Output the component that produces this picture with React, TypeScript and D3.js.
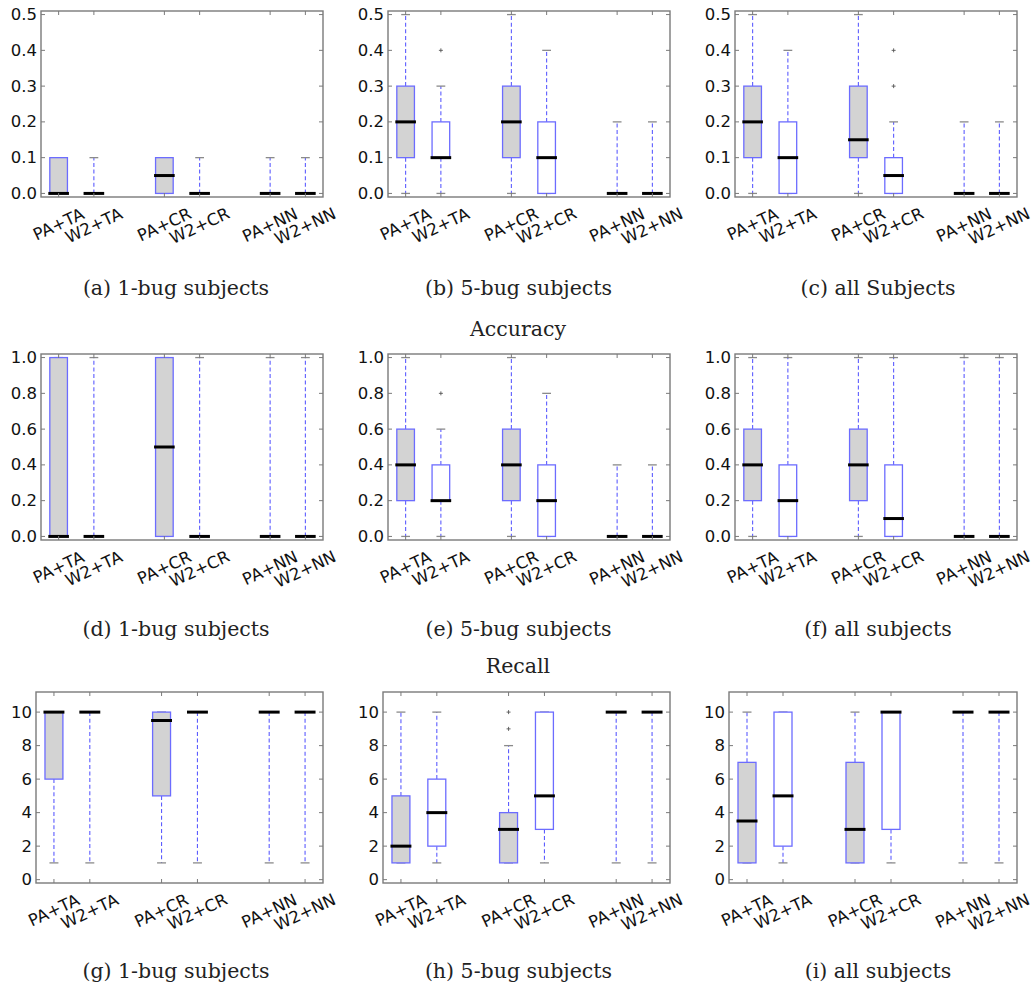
import React from "react";
import * as d3 from "d3";

// ---------- data ----------
const categories = ["PA+TA", "W2+TA", "PA+CR", "W2+CR", "PA+NN", "W2+NN"];
const positions = [1, 2, 4, 5, 7, 8];
const filledBox = [true, false, true, false, true, false];

// stats per box: [whiskerLow, q1, median, q3, whiskerHigh]
const precision1Bug = [[0, 0, 0, 0.1, 0.1], [0, 0, 0, 0, 0.1], [0, 0, 0.05, 0.1, 0.1], [0, 0, 0, 0, 0.1], [0, 0, 0, 0, 0.1], [0, 0, 0, 0, 0.1]];
const precision1BugFliers = [[], [], [], [], [], []];
const precision5Bug = [[0, 0.1, 0.2, 0.3, 0.5], [0, 0.1, 0.1, 0.2, 0.3], [0, 0.1, 0.2, 0.3, 0.5], [0, 0, 0.1, 0.2, 0.4], [0, 0, 0, 0, 0.2], [0, 0, 0, 0, 0.2]];
const precision5BugFliers = [[], [0.4], [], [], [], []];
const precisionAll = [[0, 0.1, 0.2, 0.3, 0.5], [0, 0, 0.1, 0.2, 0.4], [0, 0.1, 0.15, 0.3, 0.5], [0, 0, 0.05, 0.1, 0.2], [0, 0, 0, 0, 0.2], [0, 0, 0, 0, 0.2]];
const precisionAllFliers = [[], [], [], [0.3, 0.4], [], []];

const recall1Bug = [[0, 0, 0, 1, 1], [0, 0, 0, 0, 1], [0, 0, 0.5, 1, 1], [0, 0, 0, 0, 1], [0, 0, 0, 0, 1], [0, 0, 0, 0, 1]];
const recall1BugFliers = [[], [], [], [], [], []];
const recall5Bug = [[0, 0.2, 0.4, 0.6, 1], [0, 0.2, 0.2, 0.4, 0.6], [0, 0.2, 0.4, 0.6, 1], [0, 0, 0.2, 0.4, 0.8], [0, 0, 0, 0, 0.4], [0, 0, 0, 0, 0.4]];
const recall5BugFliers = [[], [0.8], [], [], [], []];
const recallAll = [[0, 0.2, 0.4, 0.6, 1], [0, 0, 0.2, 0.4, 1], [0, 0.2, 0.4, 0.6, 1], [0, 0, 0.1, 0.4, 1], [0, 0, 0, 0, 1], [0, 0, 0, 0, 1]];
const recallAllFliers = [[], [], [], [], [], []];

const rank1Bug = [[1, 6, 10, 10, 10], [1, 10, 10, 10, 10], [1, 5, 9.5, 10, 10], [1, 10, 10, 10, 10], [1, 10, 10, 10, 10], [1, 10, 10, 10, 10]];
const rank1BugFliers = [[], [], [], [], [], []];
const rank5Bug = [[1, 1, 2, 5, 10], [1, 2, 4, 6, 10], [1, 1, 3, 4, 8], [1, 3, 5, 10, 10], [1, 10, 10, 10, 10], [1, 10, 10, 10, 10]];
const rank5BugFliers = [[], [], [9, 10], [], [], []];
const rankAll = [[1, 1, 3.5, 7, 10], [1, 2, 5, 10, 10], [1, 1, 3, 7, 10], [1, 3, 10, 10, 10], [1, 10, 10, 10, 10], [1, 10, 10, 10, 10]];
const rankAllFliers = [[], [], [], [], [], []];

const precisionTicks = [0, 0.1, 0.2, 0.3, 0.4, 0.5];
const recallTicks = [0, 0.2, 0.4, 0.6, 0.8, 1.0];
const rankTicks = [0, 2, 4, 6, 8, 10];

const captionsRow1 = ["(a) 1-bug subjects", "(b) 5-bug subjects", "(c) all Subjects"];
const captionsRow2 = ["(d) 1-bug subjects", "(e) 5-bug subjects", "(f) all subjects"];
const captionsRow3 = ["(g) 1-bug subjects", "(h) 5-bug subjects", "(i) all subjects"];
const rowTitles = ["Accuracy", "Recall"];

// ---------- layout ----------
const W = 1035;
const H = 992;
const rights = [323, 670, 1017];
const captionX = [176, 518.5, 878];

type RowCfg = {
  top: number; bottom: number; lefts: number[]; ylim: [number, number];
  ticks: number[]; fmt: (v: number) => string; captionY: number;
  captions: string[]; panels: number[][][]; fliers: number[][][];
};

const rows: RowCfg[] = [
  { top: 11, bottom: 197, lefts: [41, 388, 735], ylim: [-0.01, 0.51], ticks: precisionTicks, fmt: d3.format(".1f"), captionY: 295, captions: captionsRow1, panels: [precision1Bug, precision5Bug, precisionAll], fliers: [precision1BugFliers, precision5BugFliers, precisionAllFliers] },
  { top: 354, bottom: 540, lefts: [41, 388, 735], ylim: [-0.02, 1.02], ticks: recallTicks, fmt: d3.format(".1f"), captionY: 636, captions: captionsRow2, panels: [recall1Bug, recall5Bug, recallAll], fliers: [recall1BugFliers, recall5BugFliers, recallAllFliers] },
  { top: 692, bottom: 883, lefts: [36, 383, 729], ylim: [-0.2, 11.2], ticks: rankTicks, fmt: d3.format("d"), captionY: 978, captions: captionsRow3, panels: [rank1Bug, rank5Bug, rankAll], fliers: [rank1BugFliers, rank5BugFliers, rankAllFliers] },
];
const titleY = [336, 673];

const FS = 16.5;
const charW: Record<string, number> = { P: 0.603, A: 0.684, "+": 0.838, T: 0.611, W: 0.989, "2": 0.636, C: 0.698, R: 0.695, N: 0.748 };
const textW = (s: string) => s.split("").reduce((a, c) => a + (charW[c] ?? 0.6), 0) * FS;
const ANG = 25;

const BOX_STROKE = "#6c6cff";
const WHISK = "#5c5cff";
const CAP = "#8a8a8a";
const FRAME = "#7a7a7a";

function Panel({ left, right, row, data, fliers }: { left: number; right: number; row: RowCfg; data: number[][]; fliers: number[][] }) {
  const x = d3.scaleLinear().domain([0.5, 8.5]).range([left, right]);
  const y = d3.scaleLinear().domain(row.ylim).range([row.bottom, row.top]);
  const unit = x(1) - x(0);
  const bw = 0.5 * unit;
  const cw = 0.25 * unit;
  const rad = (ANG * Math.PI) / 180;
  const capH = 0.73 * FS;
  return (
    <g>
      {data.map((s, i) => {
        const cx = x(positions[i]);
        const [lo, q1, med, q3, hi] = s;
        return (
          <g key={i}>
            <line x1={cx} x2={cx} y1={y(q1)} y2={y(lo)} stroke={WHISK} strokeWidth={1.1} strokeDasharray="4,2.6" />
            <line x1={cx} x2={cx} y1={y(q3)} y2={y(hi)} stroke={WHISK} strokeWidth={1.1} strokeDasharray="4,2.6" />
            <line x1={cx - cw / 2} x2={cx + cw / 2} y1={y(lo)} y2={y(lo)} stroke={CAP} strokeWidth={1.3} />
            <line x1={cx - cw / 2} x2={cx + cw / 2} y1={y(hi)} y2={y(hi)} stroke={CAP} strokeWidth={1.3} />
            <rect x={cx - bw / 2} width={bw} y={y(q3)} height={Math.max(0, y(q1) - y(q3))} fill={filledBox[i] ? "#d3d3d3" : "#ffffff"} stroke={BOX_STROKE} strokeWidth={1.3} />
            <line x1={cx - bw / 2 - 1.5} x2={cx + bw / 2 + 1.5} y1={y(med)} y2={y(med)} stroke="#000" strokeWidth={3} />
            {fliers[i].map((f, j) => (
              <g key={j} stroke="#555" strokeWidth={0.9}>
                <line x1={cx - 2} x2={cx + 2} y1={y(f)} y2={y(f)} />
                <line x1={cx} x2={cx} y1={y(f) - 2} y2={y(f) + 2} />
              </g>
            ))}
          </g>
        );
      })}
      {/* frame */}
      <rect x={left} y={row.top} width={right - left} height={row.bottom - row.top} fill="none" stroke={FRAME} strokeWidth={1.4} />
      {/* y ticks */}
      {row.ticks.map((t) => (
        <g key={t}>
          <line x1={left} x2={left + 4} y1={y(t)} y2={y(t)} stroke={FRAME} strokeWidth={1} />
          <line x1={right} x2={right - 4} y1={y(t)} y2={y(t)} stroke={FRAME} strokeWidth={1} />
          <text x={left - 4} y={y(t)} textAnchor="end" dominantBaseline="central" fontFamily="DejaVu Sans" fontSize={FS} fill="#111">{row.fmt(t)}</text>
        </g>
      ))}
      {/* x ticks and labels */}
      {positions.map((p, i) => {
        const cx = x(p);
        const w = textW(categories[i]);
        const bbH = w * Math.sin(rad) + capH * Math.cos(rad);
        const cy = row.bottom + 10 + bbH / 2;
        return (
          <g key={p}>
            <line x1={cx} x2={cx} y1={row.bottom} y2={row.bottom - 4} stroke={FRAME} strokeWidth={1} />
            <line x1={cx} x2={cx} y1={row.top} y2={row.top + 4} stroke={FRAME} strokeWidth={1} />
            <text transform={`translate(${cx},${cy}) rotate(${-ANG})`} textAnchor="middle" dominantBaseline="central" fontFamily="DejaVu Sans" fontSize={FS} fill="#111">{categories[i]}</text>
          </g>
        );
      })}
    </g>
  );
}

export default function App() {
  return (
    <svg width={W} height={H} style={{ position: "absolute", left: 0, top: 0, background: "#fff" }}>
      <rect width={W} height={H} fill="#fff" />
      {rows.map((row, r) => (
        <g key={r}>
          {row.panels.map((data, c) => (
            <Panel key={c} left={row.lefts[c]} right={rights[c]} row={row} data={data} fliers={row.fliers[c]} />
          ))}
          {row.captions.map((cap, c) => (
            <text key={c} x={captionX[c]} y={row.captionY} textAnchor="middle" fontFamily="DejaVu Serif" fontSize={20.5} fill="#222">{cap}</text>
          ))}
        </g>
      ))}
      {rowTitles.map((t, i) => (
        <text key={t} x={518} y={titleY[i]} textAnchor="middle" fontFamily="DejaVu Serif" fontSize={20.5} fill="#222">{t}</text>
      ))}
    </svg>
  );
}
